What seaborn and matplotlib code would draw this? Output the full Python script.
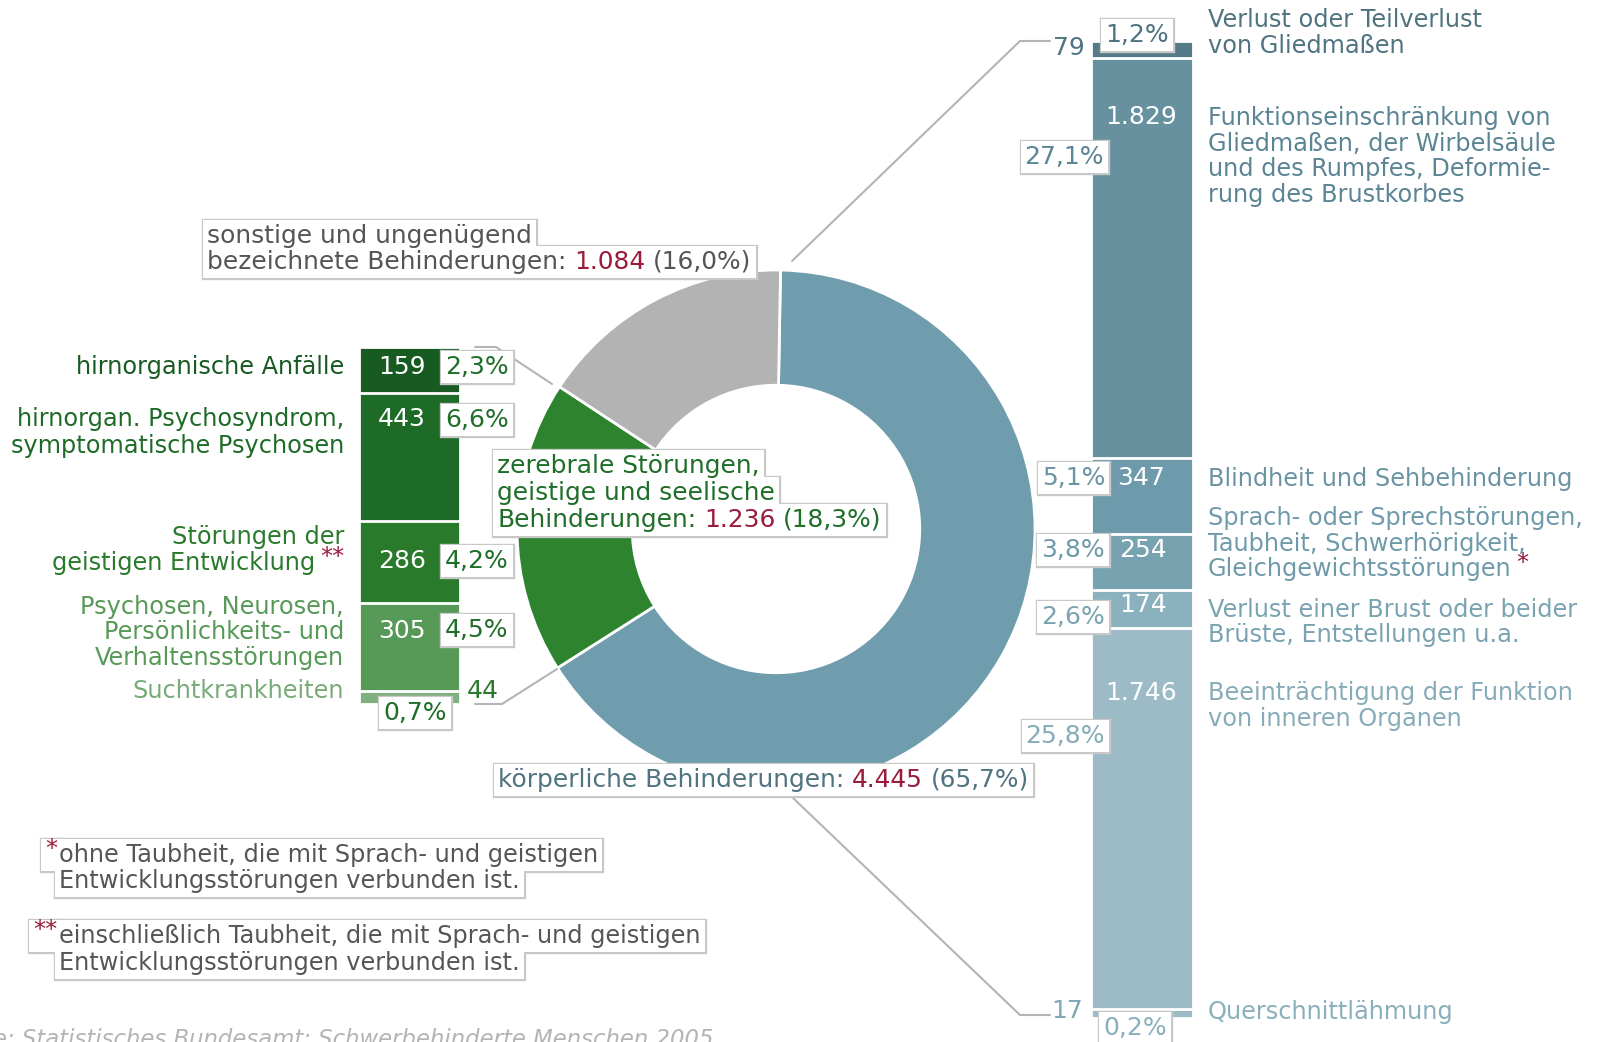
import numpy as np
import matplotlib.pyplot as plt
import seaborn as sns
from matplotlib.patches import Rectangle
from matplotlib.transforms import Bbox

# Hauptgruppen (Ring), Anzahl in 1000
group_names = ['körperliche Behinderungen',
               'zerebrale Störungen,\ngeistige und seelische\nBehinderungen',
               'sonstige und ungenügend\nbezeichnete Behinderungen']
group_vals = [4445, 1236, 1084]
group_pct = [65.7, 18.3, 16.0]

# körperliche Behinderungen (rechte Säule)
body_names = ['Verlust oder Teilverlust\nvon Gliedmaßen',
              'Funktionseinschränkung von\nGliedmaßen, der Wirbelsäule\nund des Rumpfes, Deformie-\nrung des Brustkorbes',
              'Blindheit und Sehbehinderung',
              'Sprach- oder Sprechstörungen,\nTaubheit, Schwerhörigkeit,\nGleichgewichtsstörungen',
              'Verlust einer Brust oder beider\nBrüste, Entstellungen u.a.',
              'Beeinträchtigung der Funktion\nvon inneren Organen',
              'Querschnittlähmung']
body_vals = [79, 1829, 347, 254, 174, 1746, 17]
body_pct = [1.2, 27.1, 5.1, 3.8, 2.6, 25.8, 0.2]
body_marks = ['', '', '', '*', '', '', '']

# zerebrale Störungen (linke Säule)
mind_names = ['hirnorganische Anfälle',
              'hirnorgan. Psychosyndrom,\nsymptomatische Psychosen',
              'Störungen der\ngeistigen Entwicklung',
              'Psychosen, Neurosen,\nPersönlichkeits- und\nVerhaltensstörungen',
              'Suchtkrankheiten']
mind_vals = [159, 443, 286, 305, 44]
mind_pct = [2.3, 6.6, 4.2, 4.5, 0.7]
mind_marks = ['', '', '**', '', '']

notes = [('*', 'ohne Taubheit, die mit Sprach- und geistigen\nEntwicklungsstörungen verbunden ist.'),
         ('**', 'einschließlich Taubheit, die mit Sprach- und geistigen\nEntwicklungsstörungen verbunden ist.')]
source = 'Quelle: Statistisches Bundesamt: Schwerbehinderte Menschen 2005'

# colours
group_colors = ['#6f9dad', '#2e832e', '#b3b3b3']
body_colors = ['#557a88', '#6891a0', '#6e9bab', '#77a3b1', '#8cb1be', '#9cbbc6', '#9cbbc6']
body_txt = ['#4f7380', '#5b8494', '#6a94a3', '#6f9aa9', '#7aa3b1', '#86acb9', '#8aafbc']
mind_colors = ['#175a22', '#1e6b28', '#2a7a2c', '#579957', '#80b080']
mind_txt = ['#175a22', '#1e6b28', '#2a7a2c', '#579957', '#78ab78']
RED = '#9b1b3b'
EDGE = '#c8c8c8'
LINE = '#b4b4b4'

sns.set_theme(style='white')
plt.rcParams['font.family'] = ['DejaVu Sans']
FS = 17.3      # category labels, footnotes
FS_G = 17.9    # ring labels
FS_N = 18      # numbers and percentages

W, H = 1599, 1042
fig = plt.figure(figsize=(W / 100, H / 100), dpi=100)


def px_axes(x0, y0, x1, y1, **kw):
    return fig.add_axes([x0 / W, 1 - y1 / H, (x1 - x0) / W, (y1 - y0) / H], **kw)


def de_num(v):
    return f'{v:,}'.replace(',', '.')


def de_pct(p):
    return f'{p:.1f}'.replace('.', ',') + '%'


def stacked(ax, vals, colors, min_h=0):
    disp = np.maximum(np.asarray(vals, float), min_h)
    tops = np.cumsum(disp)
    for top, col in zip(tops[::-1], colors[::-1]):
        sns.barplot(x=[0], y=[top], color=col, saturation=1, width=1,
                    edgecolor='white', linewidth=2, ax=ax)
    ax.set_xlim(-0.5, 0.5)
    ax.set_ylim(tops[-1], 0)
    ax.axis('off')


# donut
cx, cy, R = 776, 529, 259
ax_p = px_axes(cx - R, cy - R, cx + R, cy + R)
ax_p.pie(group_vals, colors=group_colors, startangle=89, counterclock=False,
         wedgeprops=dict(width=0.445, edgecolor='white', linewidth=2))
ax_p.set_xlim(-1, 1)
ax_p.set_ylim(-1, 1)

# the two breakdown columns
ax_r = px_axes(1091, 41, 1193, 1018)
stacked(ax_r, body_vals, body_colors, min_h=40)
ax_l = px_axes(359, 347, 460, 704)
stacked(ax_l, mind_vals, mind_colors)

# overlay in pixel coordinates for all the text
ov = px_axes(0, 0, W, H, zorder=10)
ov.set_xlim(0, W)
ov.set_ylim(H, 0)
ov.axis('off')

boxes = []  # (artists giving x extent, artists giving y extent)


def chain(x, y, parts, ha='left', size=FS, z=8, **kw):
    # parts: (text, colour, gap before in pt, raise in pt)
    parts = [tuple(p) + (0, 0)[len(p) - 2:] for p in parts]
    common = dict(fontsize=size, zorder=z, textcoords='offset points', **kw)
    arts = []
    if ha == 'left':
        s, c, g, r = parts[0]
        t = ov.annotate(s, xy=(x, y), xytext=(0, r), ha='left', va='center', color=c, **common)
        arts.append(t)
        prev_r = r
        for s, c, g, r in parts[1:]:
            t = ov.annotate(s, xy=(1, 0), xycoords=t, xytext=(g, r - prev_r),
                            ha='left', va='bottom', color=c, **common)
            arts.append(t)
            prev_r = r
    else:
        s, c, g, r = parts[-1]
        t = ov.annotate(s, xy=(x, y), xytext=(0, r), ha='right', va='center', color=c, **common)
        arts.append(t)
        next_g, next_r = g, r
        for s, c, g, r in reversed(parts[:-1]):
            t = ov.annotate(s, xy=(0, 0), xycoords=t, xytext=(-next_g, r - next_r),
                            ha='right', va='bottom', color=c, **common)
            arts.append(t)
            next_g, next_r = g, r
    return arts


# leader lines
for xs, ys in [((792, 1020, 1050), (261, 41, 41)),
               ((793, 1020, 1050), (798, 1015, 1015)),
               ((552, 496, 475), (384, 347, 347)),
               ((557, 502, 475), (669, 704, 704))]:
    ov.plot(xs, ys, color=LINE, lw=1.5, zorder=3)

# donut labels
sp_g = 0.318 * FS_G
grp_layout = [(498, [780], '#4f7380'),
              (497, [466, 493, 520], '#1f6e29'),
              (207, [236, 262], '#555555')]
for name, v, p, (x, ys, col) in zip(group_names, group_vals, group_pct, grp_layout):
    lines = name.split('\n')
    for i, (ln, y) in enumerate(zip(lines, ys)):
        if i < len(lines) - 1:
            parts = [(ln, col)]
        else:
            parts = [(ln + ':', col), (de_num(v), RED, sp_g), ('(' + de_pct(p) + ')', col, sp_g)]
        arts = chain(x, y, parts, size=FS_G)
        boxes.append((arts, arts))

# right column texts
body_layout = [[20, 46], [118, 144, 169, 195], [479], [518, 544, 569],
               [610, 635], [693, 719], [1012]]
num_r = [(1085, 48, 'right', body_txt[0]), (1141, 117, 'center', 'white'),
         (1117, 478, 'left', 'white'), (1119, 550, 'left', 'white'),
         (1119, 605, 'left', 'white'), (1141, 693, 'center', 'white'),
         (1083, 1011, 'right', '#7fa6b4')]
pct_r = [(1137, 35, 'center'), (1104, 157, 'right'), (1105, 478, 'right'),
         (1105, 550, 'right'), (1105, 617, 'right'), (1105, 736, 'right'),
         (1135, 1028, 'center')]
for name, mark, v, p, ys, col, (nx, ny, nha, ncol), (qx, qy, qha) in zip(
        body_names, body_marks, body_vals, body_pct, body_layout, body_txt, num_r, pct_r):
    lines = name.split('\n')
    for i, (ln, y) in enumerate(zip(lines, ys)):
        parts = [(ln, col)]
        if mark and i == len(lines) - 1:
            parts.append((mark, RED, 3.5, 4))
        chain(1208, y, parts)
    ov.text(nx, ny, de_num(v), ha=nha, va='center', color=ncol, fontsize=FS_N, zorder=8)
    t = ov.text(qx, qy, de_pct(p), ha=qha, va='center', color=col, fontsize=FS_N, zorder=8)
    boxes.append(([t], [t]))

# left column texts
mind_layout = [[367], [419, 446], [537, 563], [607, 632, 658], [691]]
num_l = [(426, 367, 'right', 'white'), (426, 419, 'right', 'white'),
         (426, 561, 'right', 'white'), (426, 631, 'right', 'white'),
         (467, 691, 'left', '#2a7a2c')]
pct_l = [(445, 367), (445, 420), (445, 561), (445, 630), (383, 713)]
for name, mark, v, p, ys, col, (nx, ny, nha, ncol), (qx, qy) in zip(
        mind_names, mind_marks, mind_vals, mind_pct, mind_layout, mind_txt, num_l, pct_l):
    lines = name.split('\n')
    for i, (ln, y) in enumerate(zip(lines, ys)):
        parts = [(ln, col)]
        if mark and i == len(lines) - 1:
            parts.append((mark, RED, 3.5, 4))
        chain(344, y, parts, ha='right')
    ov.text(nx, ny, de_num(v), ha=nha, va='center', color=ncol, fontsize=FS_N, zorder=8)
    t = ov.text(qx, qy, de_pct(p), ha='left', va='center', color='#1f6e29', fontsize=FS_N, zorder=8)
    boxes.append(([t], [t]))

# footnotes
note_layout = [(57, [855, 881]), (57, [936, 963])]
for (mark, text), (x, ys) in zip(notes, note_layout):
    star = ov.annotate(mark, xy=(x, ys[0]), xytext=(0, 4), textcoords='offset points',
                       ha='right', va='center', color=RED, fontsize=FS, zorder=8)
    for i, (ln, y) in enumerate(zip(text.split('\n'), ys)):
        t = ov.text(x + 2, y, ln, ha='left', va='center', color='#555555', fontsize=FS, zorder=8)
        boxes.append(([t], [t]))
        if i == 0:
            boxes.append(([star], [t]))

# source line, cut at the left and bottom edge
head, tail = source.split(':', 1)
t = ov.text(7, 1046, ':' + tail, ha='left', va='baseline', color='#b4b4b4',
            fontsize=16.4, style='italic', zorder=8)
ov.annotate(head, xy=(0, 0), xycoords=t, ha='right', va='bottom', color='#b4b4b4',
            fontsize=16.4, style='italic', zorder=8)

# frames behind the boxed texts; two passes so touching frames merge
fig.canvas.draw()
rend = fig.canvas.get_renderer()
inv = ov.transData.inverted()
pad = 4
for xa, ya in boxes:
    bx = Bbox.union([a.get_window_extent(rend) for a in xa])
    by = Bbox.union([a.get_window_extent(rend) for a in ya])
    (x0, y0), (x1, y1) = inv.transform([[bx.x0, by.y0], [bx.x1, by.y1]])
    left, top = min(x0, x1) - pad, min(y0, y1) - pad
    w, h = abs(x1 - x0) + 2 * pad, abs(y1 - y0) + 2 * pad
    ov.add_patch(Rectangle((left, top), w, h, fc='white', ec=EDGE, lw=2.4, zorder=6))
    ov.add_patch(Rectangle((left, top), w, h, fc='white', ec='none', zorder=7))

fig.savefig('out.png', dpi=100)
